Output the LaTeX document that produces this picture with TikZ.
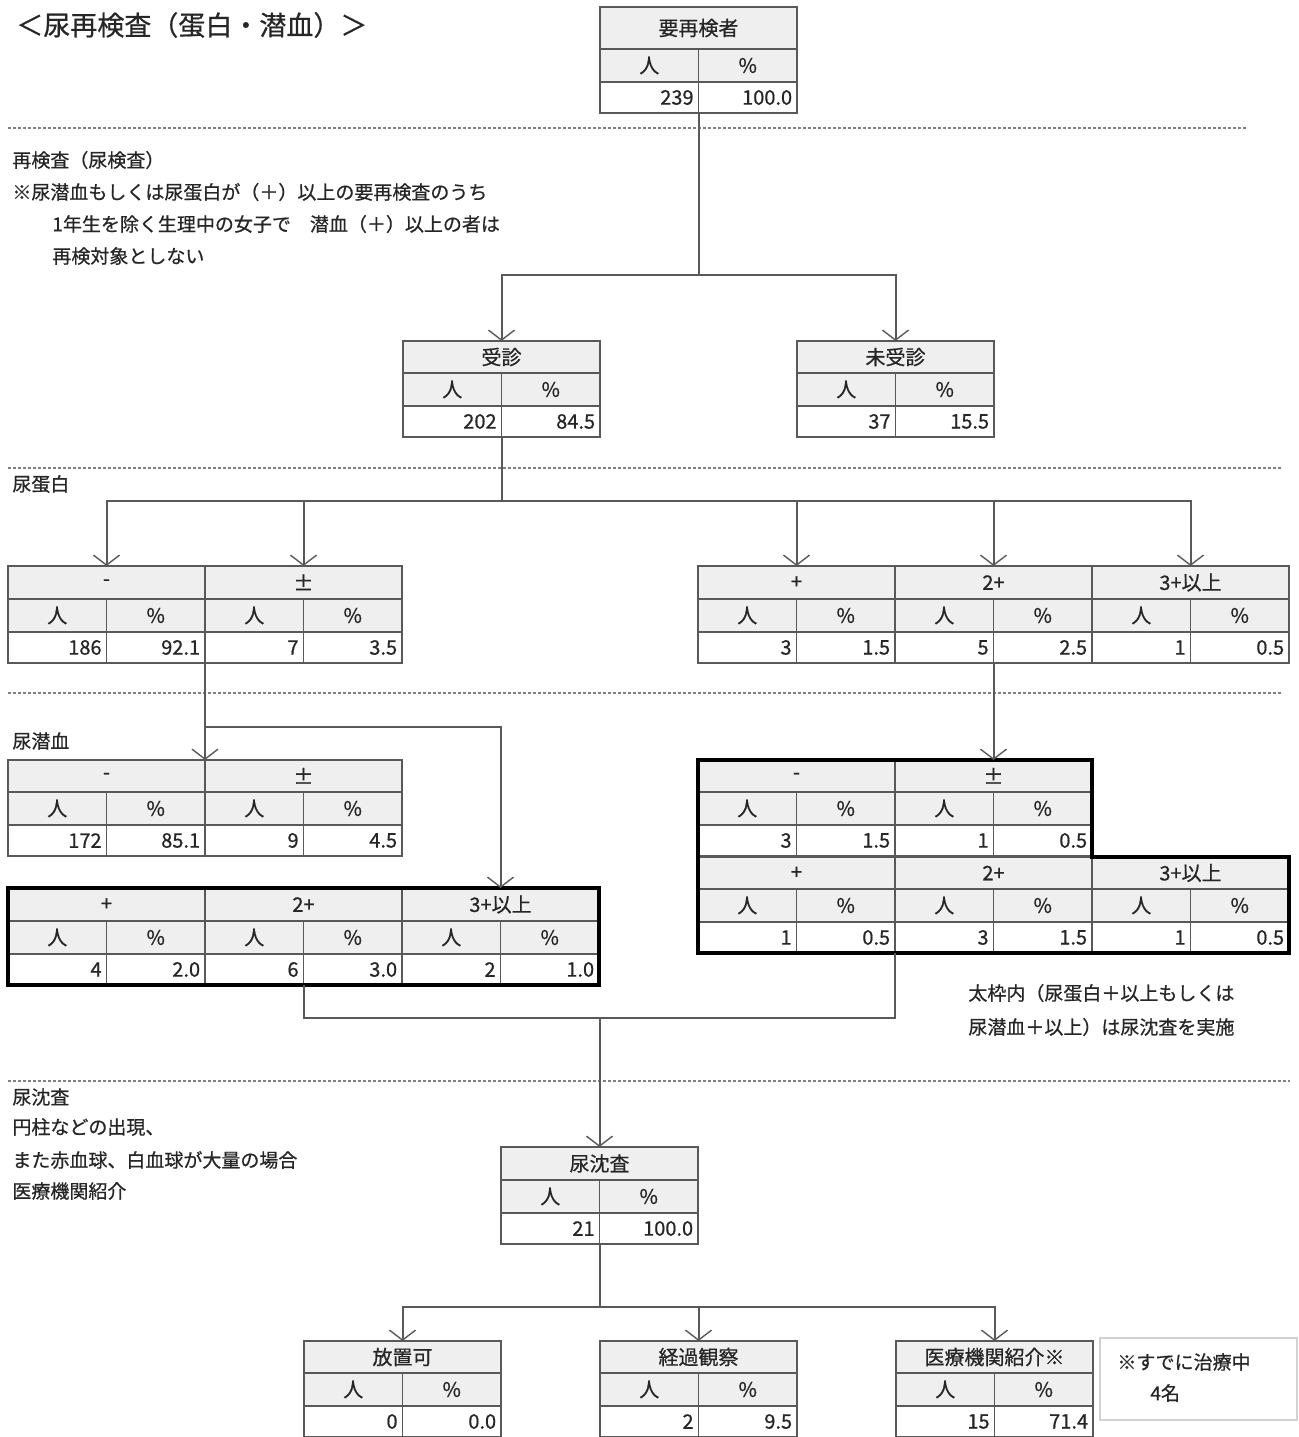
\documentclass[tikz,border=0pt]{standalone}
\usepackage{fontspec}
\usetikzlibrary{arrows.meta}
\newfontfamily\cjk[FakeBold=0.7]{Noto Sans CJK JP}
\definecolor{hdfill}{HTML}{EFEFEF}
\definecolor{linegray}{HTML}{595959}
\definecolor{txtc}{HTML}{262626}

% one result block: name, x, y, header height, label, count, percent
\newcommand{\grp}[7]{%
  \fill[hdfill] (#2,#3) rectangle ++(197,#4+33);
  \draw[cell] (#2,#3+#4) -- ++(197,0) (#2,#3+#4+33) -- ++(197,0) (#2+98.5,#3+#4) -- ++(0,64);
  \draw[frame] (#2,#3) rectangle ++(197,#4+64);
  \node[lbl] (#1-h) at (#2+98.5,#3+#4/2) {#5};
  \node[lbl] (#1-a) at (#2+49.25,#3+#4+16.5) {人};
  \node[lbl] (#1-b) at (#2+147.75,#3+#4+16.5) {\%};
  \node[num] (#1-n) at (#2+94,#3+#4+48.5) {#6};
  \node[num] (#1-p) at (#2+192.5,#3+#4+48.5) {#7};
  \coordinate (#1-top) at (#2+98.5,#3);
  \coordinate (#1-bot) at (#2+98.5,#3+#4+64);
  \coordinate (#1-ne) at (#2+197,#3);
  \coordinate (#1-se) at (#2+197,#3+#4+64);
}

\begin{document}
\begin{tikzpicture}[x=0.5pt,y=0.5pt,yscale=-1,
    cell/.style={draw=linegray,line width=0.8pt},
    frame/.style={draw=linegray,line width=1.1pt},
    thickframe/.style={draw=black,line width=1.7pt},
    conn/.style={draw=linegray,line width=1pt},
    arr/.style={conn,-{Straight Barb[length=5pt,width=13pt,line width=0.7pt]}},
    sep/.style={draw=gray,line width=0.9pt,dash pattern=on 1.5pt off 1pt},
    lbl/.style={font=\cjk\fontsize{10}{12}\selectfont,text=txtc,inner sep=0pt},
    num/.style={lbl,anchor=east},
    desc/.style={font=\cjk\fontsize{9.5}{11}\selectfont,text=txtc,inner sep=0pt,anchor=west}]
  \useasboundingbox (0,0) rectangle (1299,1437);

  % Text Node
  \node[desc,font=\cjk\fontsize{13.5}{15}\selectfont] (title) at (16,25) {＜尿再検査（蛋白・潜血）＞};

  %Shape: dotted separators
  \draw[sep] (8,128) -- (1247,128);
  \draw[sep] (8,468) -- (1282,468);
  \draw[sep] (8,693) -- (1282,693);
  \draw[sep] (8,1081) -- (1290,1081);

  % Text Node
  \node[desc] (t1) at (12,160) {再検査（尿検査）};
  \node[desc] (t2) at (12,192) {※尿潜血もしくは尿蛋白が（＋）以上の要再検査のうち};
  \node[desc] (t3) at (52,224) {1年生を除く生理中の女子で　潜血（＋）以上の者は};
  \node[desc] (t4) at (52,256) {再検対象としない};
  \node[desc] (t5) at (12,484) {尿蛋白};
  \node[desc] (t6) at (12,741) {尿潜血};
  \node[desc] (t7) at (968,993) {太枠内（尿蛋白＋以上もしくは};
  \node[desc] (t8) at (968,1027) {尿潜血＋以上）は尿沈査を実施};
  \node[desc] (t9) at (12,1097) {尿沈査};
  \node[desc] (t10) at (12,1127) {円柱などの出現、};
  \node[desc] (t11) at (12,1160) {また赤血球、白血球が大量の場合};
  \node[desc] (t12) at (12,1191) {医療機関紹介};

  % tables
  \grp{yo}{600}{7}{42}{要再検者}{239}{100.0}
  \grp{jk}{403}{341}{32}{受診}{202}{84.5}
  \grp{mj}{797}{341}{32}{未受診}{37}{15.5}
  % protein
  \grp{pm}{8}{566}{33}{-}{186}{92.1}
  \grp{pz}{205}{566}{33}{±}{7}{3.5}
  \grp{p1}{698}{566}{33}{+}{3}{1.5}
  \grp{p2}{895}{566}{33}{2+}{5}{2.5}
  \grp{p3}{1092}{566}{33}{3+以上}{1}{0.5}
  % occult blood
  \grp{bm}{8}{760}{32}{-}{172}{85.1}
  \grp{bz}{205}{760}{32}{±}{9}{4.5}
  \grp{b1}{8}{888}{33}{+}{4}{2.0}
  \grp{b2}{205}{888}{33}{2+}{6}{3.0}
  \grp{b3}{402}{888}{33}{3+以上}{2}{1.0}
  \grp{rm}{698}{760}{32}{-}{3}{1.5}
  \grp{rz}{895}{760}{32}{±}{1}{0.5}
  \grp{r1}{698}{857}{32}{+}{1}{0.5}
  \grp{r2}{895}{857}{32}{2+}{3}{1.5}
  \grp{r3}{1092}{857}{32}{3+以上}{1}{0.5}
  % sediment
  \grp{cs}{501}{1147}{33}{尿沈査}{21}{100.0}
  \grp{q1}{304}{1341}{32}{放置可}{0}{0.0}
  \grp{q2}{600}{1341}{32}{経過観察}{2}{9.5}
  \grp{q3}{896}{1341}{32}{医療機関紹介※}{15}{71.4}

  %Shape: thick frames
  \draw[thickframe] (8,888) rectangle (599,985);
  \draw[thickframe] (698,760) -- (1092,760) -- (1092,857) -- (1289,857) -- (1289,953) -- (698,953) -- cycle;

  % connectors
  \coordinate (s1) at (698.5,275);
  \draw[conn] (yo-bot) -- (s1);
  \draw[arr] (s1) -| (jk-top);
  \draw[arr] (s1) -| (mj-top);

  \coordinate (s2) at (501.5,501);
  \draw[conn] (jk-bot) -- (s2);
  \foreach \t in {pm,pz,p1,p2,p3} \draw[arr] (s2) -| (\t-top);

  \coordinate (s3) at (205,727);
  \draw[conn] (pm-se) -- (s3);
  \draw[arr] (s3) -- (bm-ne);
  \draw[arr] (s3) -| (b3-top);
  \draw[arr] (p2-bot) -- (rz-top);

  \coordinate (s4) at (599.5,1018);
  \draw[conn] (b2-bot) |- (s4);
  \draw[conn] (r1-se) |- (s4);
  \draw[arr] (s4) -- (cs-top);

  \coordinate (s5) at (599.5,1307);
  \draw[conn] (cs-bot) -- (s5);
  \foreach \t in {q1,q2,q3} \draw[arr] (s5) -| (\t-top);

  % note
  \draw[draw=gray!35,line width=1pt] (1100,1338) rectangle (1297,1420);
  \node[desc] (n1) at (1117,1362) {※すでに治療中};
  \node[desc] (n2) at (1150,1393) {4名};
\end{tikzpicture}
\end{document}
